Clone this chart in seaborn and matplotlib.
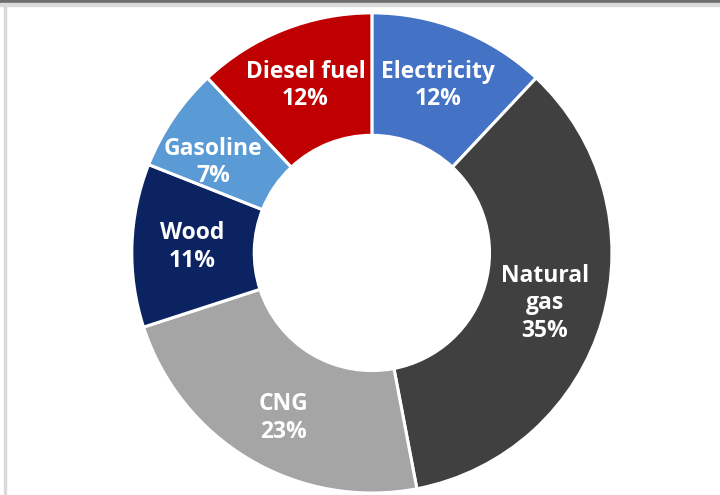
import numpy as np
import matplotlib
matplotlib.use("Agg")
import matplotlib.pyplot as plt
import matplotlib.patches as mpatches
import seaborn as sns

# Energy mix by fuel type (share in %)
fuels = ["Electricity", "Natural gas", "CNG", "Wood", "Gasoline", "Diesel fuel"]
shares = [12, 35, 23, 11, 7, 12]
labels = ["Electricity", "Natural\ngas", "CNG", "Wood", "Gasoline", "Diesel fuel"]
colors = ["#4472C4", "#404040", "#A5A5A5", "#0B2461", "#5B9BD5", "#C00000"]

sns.set_theme(style="white")
plt.rcParams["font.family"] = ["Open Sans", "DejaVu Sans"]

fig = plt.figure(figsize=(7.2, 4.95), dpi=100)
fig.patch.set_facecolor("white")

# thin frame strips along the top and left edge
fig.add_artist(mpatches.Rectangle((0, 1 - 3 / 495), 1, 3 / 495, transform=fig.transFigure,
                                  color="#6E6E6E", zorder=0))
fig.add_artist(mpatches.Rectangle((0, 1 - 6 / 495), 1, 3 / 495, transform=fig.transFigure,
                                  color="#DADADA", zorder=0))
fig.add_artist(mpatches.Rectangle((4 / 720, 0), 2 / 720, 1 - 6 / 495, transform=fig.transFigure,
                                  color="#D9D9D9", zorder=0))

ax = fig.add_axes([0.183, 0.004, 0.667, 0.97])
wedges, _ = ax.pie(shares, colors=colors, startangle=90, counterclock=False,
                   radius=1.0,
                   wedgeprops=dict(width=0.51, edgecolor="white", linewidth=2.2))
ax.set_aspect("equal")
ax.set_xlim(-1.0, 1.0)
ax.set_ylim(-1.0, 1.0)
ax.axis("off")

# radial distance and angular nudge (degrees) for each label
label_r = {"CNG": 0.78, "Gasoline": 0.76}
label_rot = {"Gasoline": 4.5, "CNG": 2.5}
for w, lab, name, v in zip(wedges, labels, fuels, shares):
    mid = np.deg2rad((w.theta1 + w.theta2) / 2 + label_rot.get(name, 0))
    r = label_r.get(name, 0.75)
    ax.text(r * np.cos(mid), r * np.sin(mid), f"{lab}\n{v}%",
            ha="center", va="center", color="white", fontsize=16.5,
            fontweight="bold", linespacing=1.2)

fig.savefig("out.png", dpi=100, facecolor="white")
